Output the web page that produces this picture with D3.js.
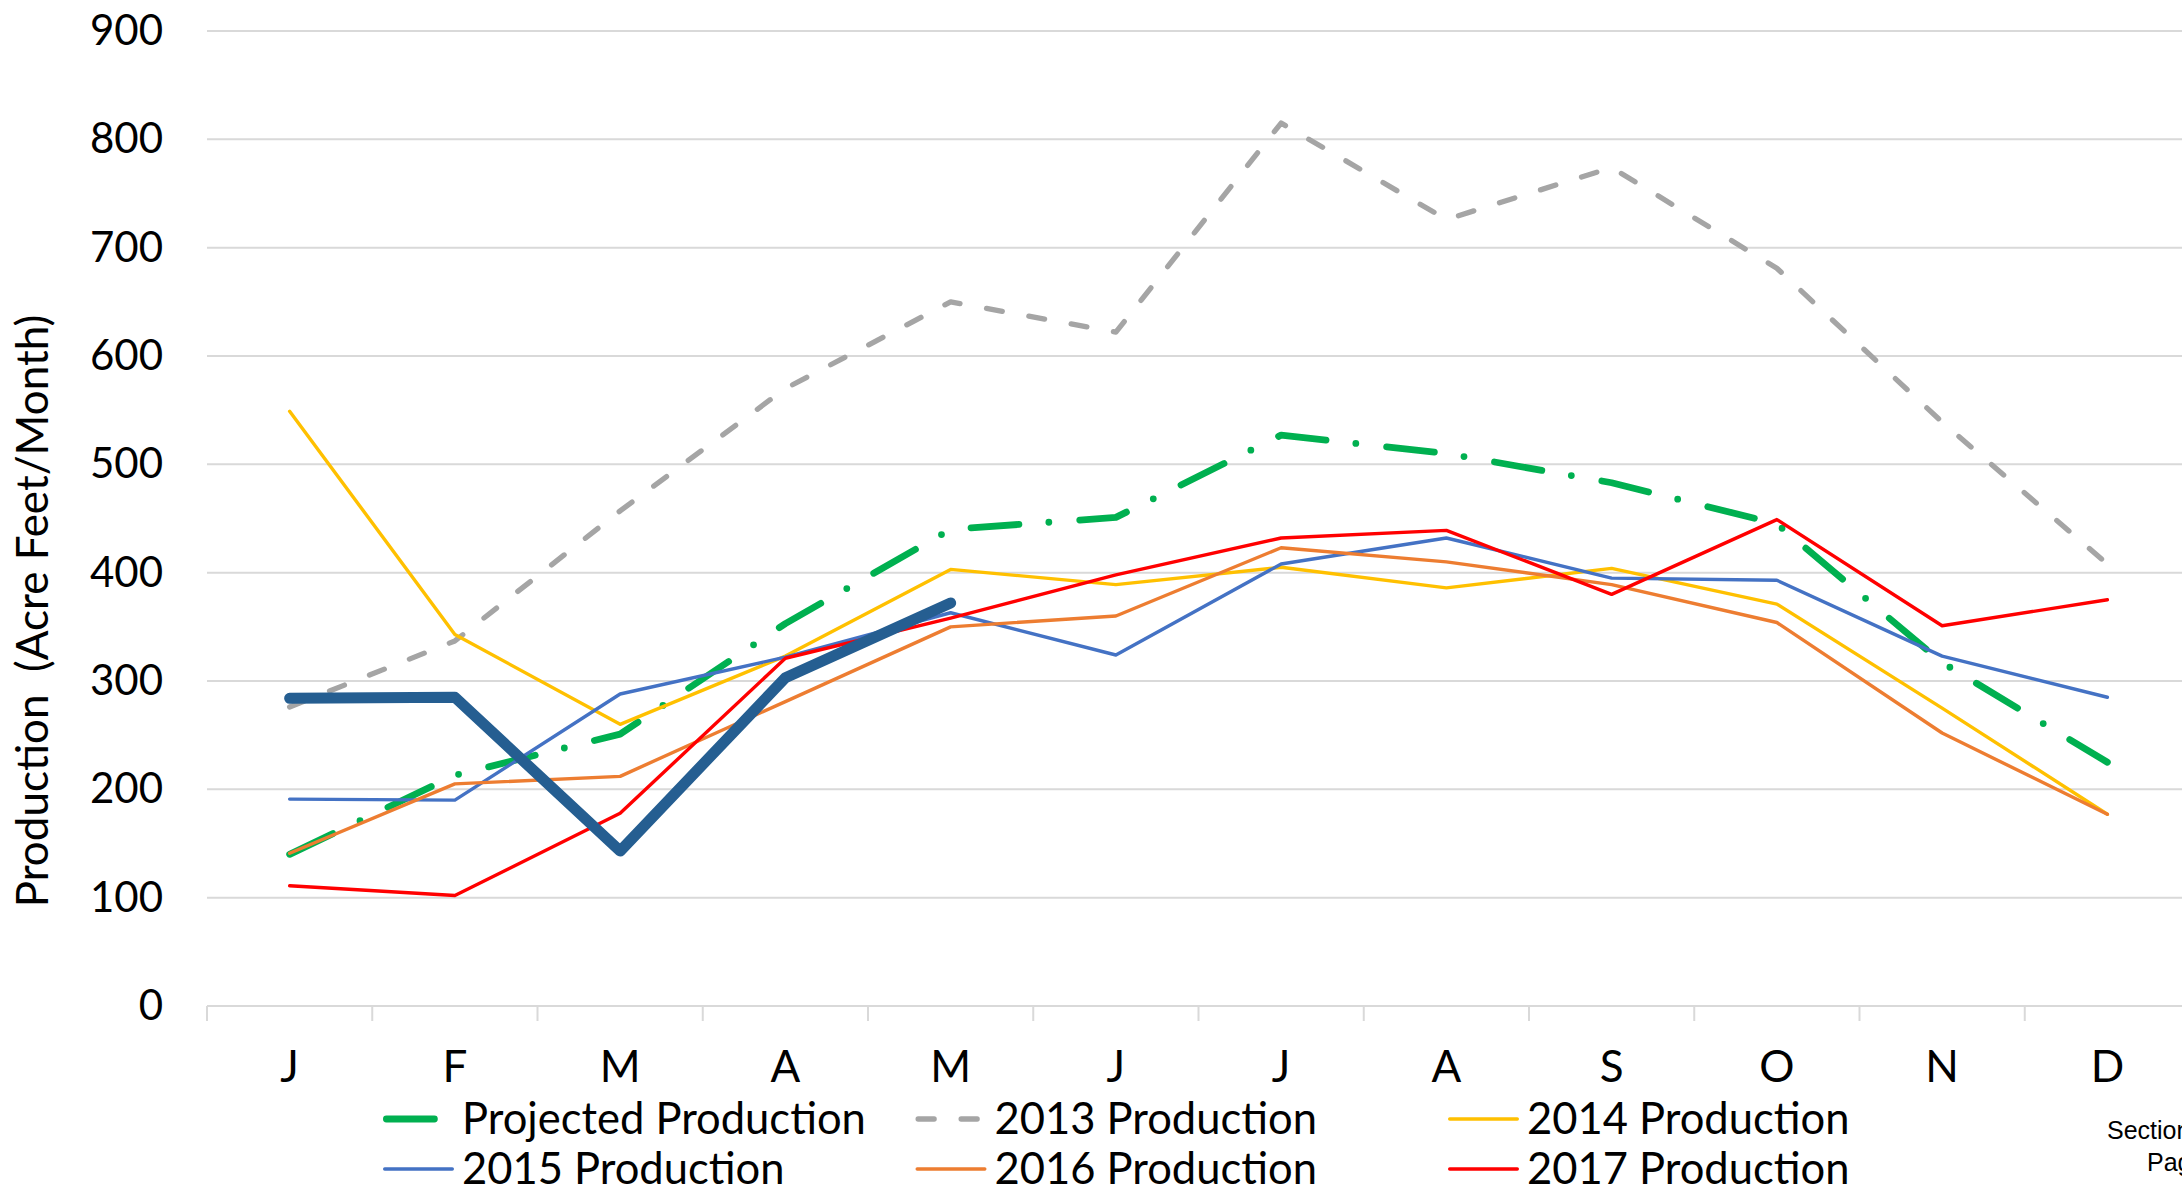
<!DOCTYPE html>
<html>
<head>
<meta charset="utf-8">
<script src="https://cdn.jsdelivr.net/npm/d3@7"></script>
<style>
  html, body { margin: 0; padding: 0; background: #fff; }
  svg { display: block; }
</style>
</head>
<body>
<div id="chart"></div>
<script>
// values
var months = ["J", "F", "M", "A", "M", "J", "J", "A", "S", "O", "N", "D"];
var yTicks = [0, 100, 200, 300, 400, 500, 600, 700, 800, 900];

var projected = [140, 213, 251, 353, 440, 451, 527, 510, 483, 445, 317, 225];
var prod2013 = [276, 337, 457, 570, 650, 622, 815, 726, 774, 681, 539, 408];
var prod2014 = [549, 343, 260, 323, 403, 389, 405, 386, 404, 371, 275, 177];
var prod2015 = [191, 190, 288, 322, 363, 324, 408, 432, 395, 393, 323, 285];
var prod2016 = [141, 205, 212, 281, 350, 360, 423, 410, 389, 354, 252, 177];
var prod2017 = [111, 102, 178, 321, 358, 398, 432, 439, 380, 449, 351, 375];
var actual = [284, 285, 143, 303, 372];

var W = 2182, H = 1192;
var margin = { top: 31, right: -8, bottom: 186, left: 207 },
  width = W - margin.left - margin.right,
  height = H - margin.top - margin.bottom;

var font = "Lato, 'Noto Sans', sans-serif";

var svg = d3
  .select("#chart")
  .append("svg")
  .attr("width", W)
  .attr("height", H)
  .style("font-family", font);

var g = svg
  .append("g")
  .attr("transform", "translate(" + margin.left + "," + margin.top + ")");

var x = d3
  .scaleBand()
  .domain(d3.range(months.length))
  .range([0, width]);

var y = d3
  .scaleLinear()
  .domain([0, 900])
  .range([height, 0]);

// gridlines
g.append("g")
  .selectAll("line")
  .data(yTicks.slice(1))
  .enter()
  .append("line")
  .attr("x1", 0)
  .attr("x2", width)
  .attr("y1", function(d) { return y(d); })
  .attr("y2", function(d) { return y(d); })
  .attr("stroke", "#d9d9d9")
  .attr("stroke-width", 2);

// y tick labels
var yAxis = g
  .append("g")
  .call(d3.axisLeft(y).tickValues(yTicks).tickSize(0).tickPadding(44));
yAxis.select(".domain").remove();
yAxis
  .selectAll("text")
  .style("font-family", font)
  .style("font-size", "42px")
  .attr("fill", "#000");

// x axis: line, boundary ticks, month labels
g.append("line")
  .attr("x1", 0)
  .attr("x2", width)
  .attr("y1", height)
  .attr("y2", height)
  .attr("stroke", "#d9d9d9")
  .attr("stroke-width", 2);

g.append("g")
  .selectAll("line")
  .data(d3.range(months.length + 1))
  .enter()
  .append("line")
  .attr("x1", function(i) { return i * x.step(); })
  .attr("x2", function(i) { return i * x.step(); })
  .attr("y1", height)
  .attr("y2", height + 15)
  .attr("stroke", "#d9d9d9")
  .attr("stroke-width", 2);

var xAxis = g
  .append("g")
  .attr("transform", "translate(0," + height + ")")
  .call(
    d3.axisBottom(x)
      .tickSize(0)
      .tickPadding(45)
      .tickFormat(function(i) { return months[i]; })
  );
xAxis.select(".domain").remove();
xAxis
  .selectAll("text")
  .style("font-family", font)
  .style("font-size", "44px")
  .attr("fill", "#000");

// axis title
svg
  .append("text")
  .attr("transform", "translate(48,611) rotate(-90)")
  .attr("text-anchor", "middle")
  .style("font-size", "44px")
  .style("white-space", "pre")
  .attr("xml:space", "preserve")
  .text("Production  (Acre Feet/Month)");

// series
var series = [
  { name: "Projected Production", values: projected, color: "#00b050", width: 6.8, dash: "48,30,0,31" },
  { name: "2013 Production", values: prod2013, color: "#a5a5a5", width: 5.3, dash: "16,27" },
  { name: "2014 Production", values: prod2014, color: "#ffc000", width: 3.4, dash: null },
  { name: "2015 Production", values: prod2015, color: "#4472c4", width: 3.4, dash: null },
  { name: "2016 Production", values: prod2016, color: "#ed7d31", width: 3.4, dash: null },
  { name: "2017 Production", values: prod2017, color: "#ff0000", width: 3.4, dash: null },
  { name: null, values: actual, color: "#255e91", width: 11, dash: null }
];

var line = d3
  .line()
  .x(function(d, i) { return x(i) + x.bandwidth() / 2; })
  .y(function(d) { return y(d); });

g.append("g")
  .selectAll("path")
  .data(series)
  .enter()
  .append("path")
  .attr("d", function(s) { return line(s.values); })
  .attr("fill", "none")
  .attr("stroke", function(s) { return s.color; })
  .attr("stroke-width", function(s) { return s.width; })
  .attr("stroke-dasharray", function(s) { return s.dash; })
  .attr("stroke-linecap", "round")
  .attr("stroke-linejoin", "round");

// legend (3 columns x 2 rows)
var legendSeries = series.filter(function(s) { return s.name; });
var legend = svg
  .selectAll(".legend")
  .data(legendSeries)
  .enter()
  .append("g")
  .attr("class", "legend")
  .attr("transform", function(d, i) {
    return "translate(" + (383 + (i % 3) * 532.5) + "," + (1119 + Math.floor(i / 3) * 50) + ")";
  });

legend
  .append("line")
  .attr("x1", function(d) { return d.width / 2; })
  .attr("x2", function(d) { return 71 - d.width / 2; })
  .attr("y1", 0)
  .attr("y2", 0)
  .attr("stroke", function(d) { return d.color; })
  .attr("stroke-width", function(d) { return d.width; })
  .attr("stroke-dasharray", function(d) { return d.dash; })
  .attr("stroke-linecap", "round");

legend
  .append("text")
  .attr("x", 79)
  .attr("y", 15)
  .style("font-size", "43.5px")
  .attr("fill", "#000")
  .text(function(d) { return d.name; });

// footer note at the bottom right, cut by the page edge as in the reference
svg
  .append("text")
  .attr("x", 2107)
  .attr("y", 1139)
  .style("font-family", "'Liberation Sans', Arial, sans-serif")
  .style("font-size", "25px")
  .text("Section");
svg
  .append("text")
  .attr("x", 2147)
  .attr("y", 1171)
  .style("font-family", "'Liberation Sans', Arial, sans-serif")
  .style("font-size", "25px")
  .text("Page");
</script>
</body>
</html>
